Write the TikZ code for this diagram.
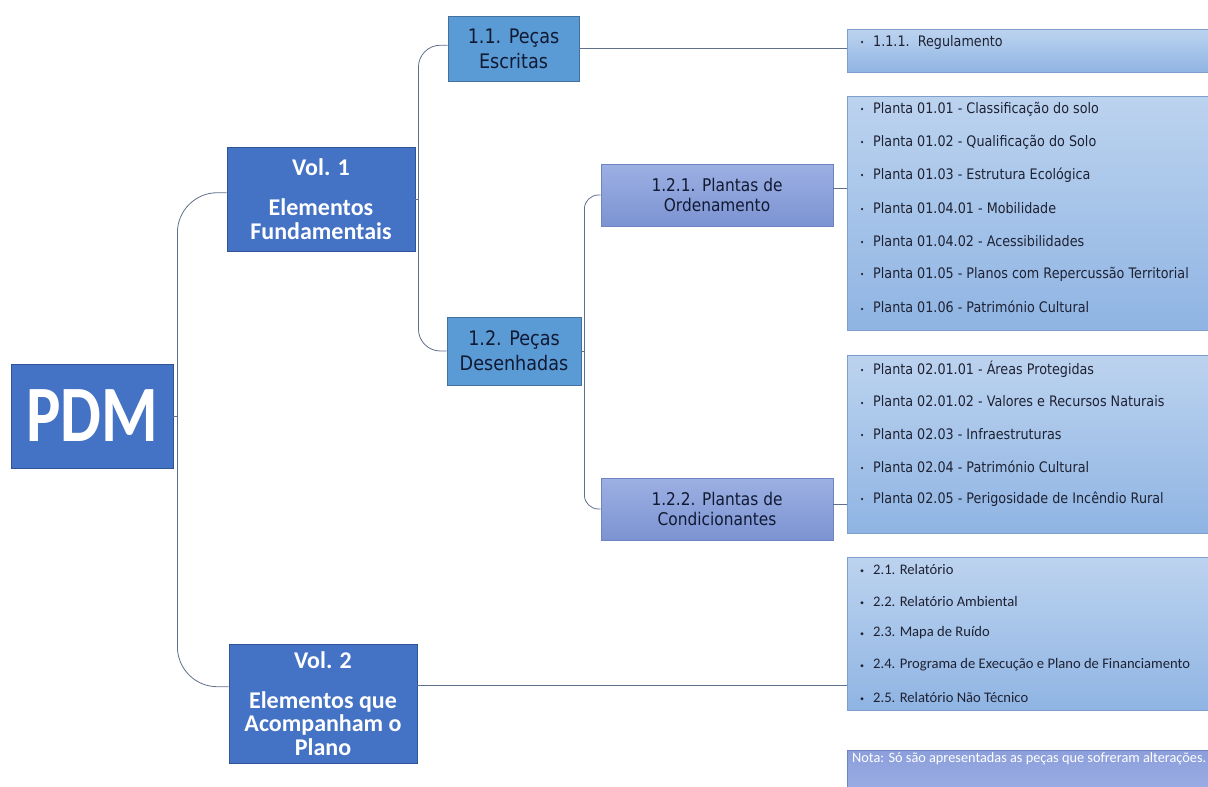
\documentclass[tikz,border=0pt]{standalone}
\usepackage{fontspec}
\usepackage{graphicx}
\usetikzlibrary{calc}
\newfontfamily\tahfont[FakeStretch=0.88]{DejaVu Sans}
\newfontfamily\calfont{Carlito}
\definecolor{volfill}{HTML}{4472C4}
\definecolor{voldraw}{HTML}{2F5597}
\definecolor{midfill}{HTML}{5B9BD5}
\definecolor{middraw}{HTML}{41719C}
\definecolor{lavtop}{HTML}{9DB0E3}
\definecolor{lavbot}{HTML}{7C93D2}
\definecolor{lavdraw}{HTML}{6E83C2}
\definecolor{listtop}{HTML}{BCD3EF}
\definecolor{listbot}{HTML}{8FB4E3}
\definecolor{listdraw}{HTML}{7E9FCB}
\definecolor{notatop}{HTML}{8C9FDC}
\definecolor{notabot}{HTML}{9CAEE3}
\definecolor{navy}{HTML}{111A33}
\definecolor{itemtxt}{HTML}{1E2233}
\definecolor{connc}{HTML}{60708C}
\newcommand\itembul{\makebox[13pt][l]{\raisebox{0.5pt}{\fontsize{8}{8}\selectfont\textbullet}}}
\begin{document}
\begin{tikzpicture}[x=1pt,y=-1pt,
  volbox/.style={draw=voldraw,fill=volfill,line width=0.8pt,text=white,inner sep=0pt,align=center,
    font=\calfont\bfseries\fontsize{24}{24}\selectfont},
  midbox/.style={draw=middraw,fill=midfill,line width=0.8pt,text=navy,inner sep=0pt,align=center,
    font=\tahfont\fontsize{20}{25}\selectfont},
  lavbox/.style={draw=lavdraw,top color=lavtop,bottom color=lavbot,line width=0.8pt,text=navy,inner sep=0pt,align=center,
    font=\tahfont\fontsize{17.5}{20}\selectfont},
  listbox/.style={draw=listdraw,top color=listtop,bottom color=listbot,line width=0.8pt,inner sep=0pt,anchor=north west},
  notabox/.style={draw=lavdraw,top color=notatop,bottom color=notabot,line width=0.8pt,inner sep=0pt,anchor=north west},
  itemt/.style={anchor=west,inner sep=0pt,text=itemtxt,font=\tahfont\fontsize{14.5}{17}\selectfont},
  itemc/.style={anchor=west,inner sep=0pt,text=itemtxt,font=\calfont\fontsize{14.6}{17}\selectfont},
  conn/.style={draw=connc,line width=0.8pt}
]
\clip (0,0) rectangle (1208,787);
\fill[white] (0,0) rectangle (1208,787);

% list boxes
\node[listbox,minimum width=370pt,minimum height=43pt] (l111) at (847,29) {};
\node[listbox,minimum width=370pt,minimum height=234pt] (l121) at (847,96) {};
\node[listbox,minimum width=370pt,minimum height=178pt] (l122) at (847,355) {};
\node[listbox,minimum width=370pt,minimum height=153pt] (l2) at (847,557) {};
\node[notabox,minimum width=370pt,minimum height=45pt] (nota) at (847,750) {};

% main boxes
\node[volbox,minimum width=162pt,minimum height=104pt,font=\calfont\bfseries\fontsize{80}{80}\selectfont] (pdm) at (92,416) {\scalebox{0.81}[1]{PDM}};
\node[volbox,minimum width=188pt,minimum height=104pt] (v1) at (321,199) {Vol. 1\\[16pt]Elementos\\Fundamentais};
\node[volbox,minimum width=188pt,minimum height=119pt,font=\calfont\bfseries\fontsize{24}{23.5}\selectfont] (v2) at (323,703.5) {Vol. 2\\[16pt]Elementos que\\Acompanham o\\Plano};
\node[midbox,minimum width=131pt,minimum height=65pt] (p11) at (513.5,48.5) {1.1. Peças\\Escritas};
\node[midbox,minimum width=134pt,minimum height=68pt] (p12) at (514,351) {1.2. Peças\\Desenhadas};
\node[lavbox,minimum width=232pt,minimum height=62pt] (p121) at (717,195) {1.2.1. Plantas de\\Ordenamento};
\node[lavbox,minimum width=232pt,minimum height=62pt] (p122) at (717,509) {1.2.2. Plantas de\\Condicionantes};

% connectors
\draw[conn] (pdm.east) -- ++(4,0);
\draw[conn,rounded corners=40pt] ($(pdm.east)+(4,0)$) |- ($(v1.north west)!0.44!(v1.south west)$);
\draw[conn,rounded corners=40pt] ($(pdm.east)+(4,0)$) |- ($(v2.north west)!0.36!(v2.south west)$);
\draw[conn] (v1.east) -- ++(3,0);
\draw[conn,rounded corners=22pt] ($(v1.east)+(3,0)$) |- ($(p11.north west)!0.45!(p11.south west)$);
\draw[conn,rounded corners=22pt] ($(v1.east)+(3,0)$) |- (p12.west);
\draw[conn] (p12.east) -- ++(3,0);
\draw[conn,rounded corners=14pt] ($(p12.east)+(3,0)$) |- (p121.west);
\draw[conn,rounded corners=14pt] ($(p12.east)+(3,0)$) |- (p122.west);
\draw[conn] (p11.east) -- (p11.east -| l111.west);
\coordinate (a121) at ($(p121.north east)!0.4!(p121.south east)$);
\draw[conn] (a121) -- (a121 -| l121.west);
\coordinate (a122) at ($(p122.north east)!0.42!(p122.south east)$);
\draw[conn] (a122) -- (a122 -| l122.west);
\coordinate (av2) at ($(v2.north east)!0.353!(v2.south east)$);
\draw[conn] (av2) -- (av2 -| l2.west);

% list items
\node[itemt] (reg) at (860,42) {\itembul 1.1.1.\ \ Regulamento};
\foreach \t [count=\i] in {Planta 01.01 - Classificação do solo,
  Planta 01.02 - Qualificação do Solo,
  Planta 01.03 - Estrutura Ecológica,
  Planta 01.04.01 - Mobilidade,
  Planta 01.04.02 - Acessibilidades,
  Planta 01.05 - Planos com Repercussão Territorial,
  Planta 01.06 - Património Cultural}
  \node[itemt] (o\i) at (860,{109+33*(\i-1)}) {\itembul\t};
\foreach \t [count=\i] in {Planta 02.01.01 - Áreas Protegidas,
  Planta 02.01.02 - Valores e Recursos Naturais,
  Planta 02.03 - Infraestruturas,
  Planta 02.04 - Património Cultural,
  Planta 02.05 - Perigosidade de Incêndio Rural}
  \node[itemt] (c\i) at (860,{369+32.5*(\i-1)}) {\itembul\t};
\foreach \t [count=\i] in {2.1. Relatório,
  2.2. Relatório Ambiental,
  2.3. Mapa de Ruído,
  2.4. Programa de Execução e Plano de Financiamento,
  2.5. Relatório Não Técnico}
  \node[itemc] (r\i) at (860,{569+32*(\i-1)}) {\itembul\t};
\node[anchor=west,inner sep=0pt,text=white,font=\calfont\fontsize{14.3}{17}\selectfont] (notatxt) at (852,759) {Nota: Só são apresentadas as peças que sofreram alterações.};
\end{tikzpicture}
\end{document}
